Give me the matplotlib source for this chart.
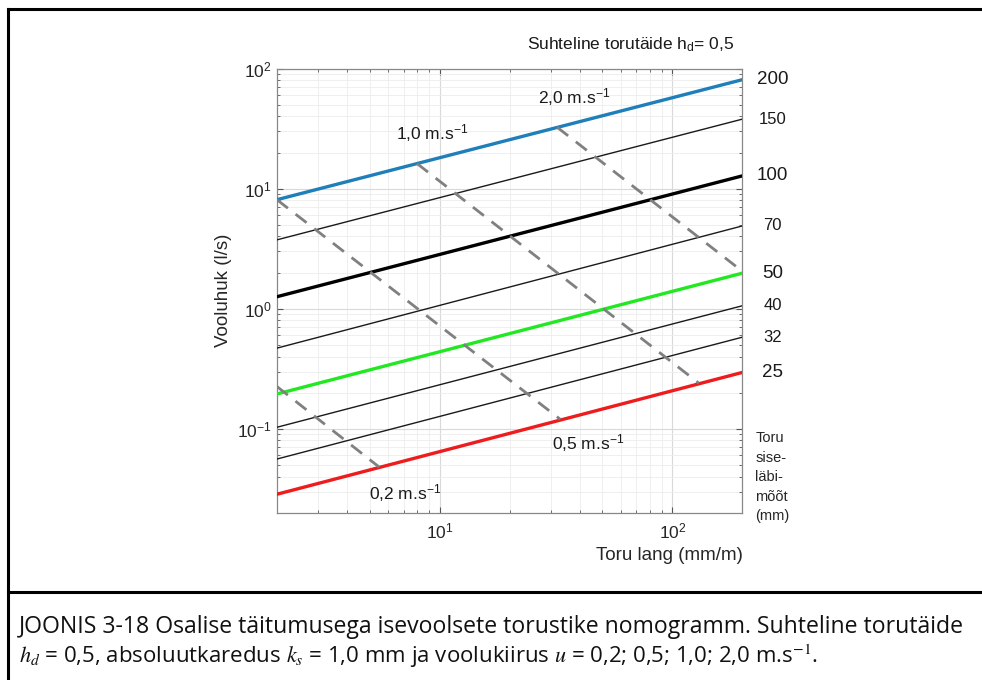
import numpy as np
import matplotlib.pyplot as plt
from matplotlib.lines import Line2D
from matplotlib.transforms import blended_transform_factory

# === DATOS ===
# toru siseläbimõõt (mm) ja vooluhulk (l/s) telje otstes: lang 2 ja 200 mm/m
diam = ['200', '150', '100', '70', '50', '40', '32', '25']
lang_otsad = [2, 200]
q_vasak = [8.1, 3.75, 1.26, 0.47, 0.195, 0.103, 0.056, 0.0285]
q_parem = [81, 38, 12.8, 4.9, 1.98, 1.06, 0.58, 0.295]

# voolukiiruse jooned: (lang algus, Q algus) -> (lang lõpp, Q lõpp)
kiirus_nimed = ['2,0', '1,0', '0,5', '0,2']
kiirus_lang = [[32, 200], [8, 130], [2, 33], [2, 5.5]]
kiirus_q = [[32.5, 2.05], [16.2, 0.24], [8.1, 0.12], [0.225, 0.048]]
# siltide asukohad (lang, Q)
silt_lang = [38, 9.3, 43.5, 7.1]
silt_q = [58, 29, 0.076, 0.029]

# === STIILID ===
stiil = {
    '200': dict(color='#1f7fb9', lw=2.4),
    '100': dict(color='black', lw=2.4),
    '50': dict(color='#22e822', lw=2.4),
    '25': dict(color='#ee1c1c', lw=2.4),
}
ohuke = dict(color='#1a1a1a', lw=1.0)

plt.rcParams['font.family'] = ['Liberation Sans', 'DejaVu Sans']
plt.rcParams['mathtext.fontset'] = 'custom'
plt.rcParams['mathtext.rm'] = 'Liberation Sans'
plt.rcParams['mathtext.it'] = 'Liberation Sans:italic'
plt.rcParams['mathtext.bf'] = 'Liberation Sans:bold'

fig = plt.figure(figsize=(9.82, 6.8), dpi=100)
ax = fig.add_axes([0.282, 0.246, 0.474, 0.653])

for d, q1, q2 in zip(diam, q_vasak, q_parem):
    ax.plot(lang_otsad, [q1, q2], **stiil.get(d, ohuke), zorder=3)

for s, q in zip(kiirus_lang, kiirus_q):
    ax.plot(s, q, color='#808080', lw=2.0, dashes=(5, 3.5), zorder=4)

ax.set_xscale('log')
ax.set_yscale('log')
ax.set_xlim(2, 200)
ax.set_ylim(0.02, 100)
ax.grid(True, which='major', color='#d9d9d9', lw=0.8)
ax.grid(True, which='minor', color='#ececec', lw=0.6)
ax.tick_params(which='both', direction='in', top=True, right=True,
               colors='#555555', labelcolor='#262626', labelsize=12.5)
ax.tick_params(which='major', length=4)
ax.tick_params(which='minor', length=2)
ax.tick_params(axis='x', pad=6)
for sp in ax.spines.values():
    sp.set_color('#888888')
    sp.set_linewidth(0.9)

ax.set_ylabel('Vooluhuk (l/s)', fontsize=13.5, color='#262626', labelpad=4)
ax.set_xlabel('Toru lang (mm/m)', fontsize=13.5, color='#262626',
              loc='right', labelpad=4)

# läbimõõdu sildid paremal
tr = blended_transform_factory(ax.transAxes, ax.transData)
for d, q in zip(diam, q_parem):
    suur = d in stiil
    ax.text(1.065, q, d, transform=tr, ha='center', va='center',
            fontsize=13.5 if suur else 12, color='#1a1a1a', clip_on=False)

ax.text(1.028, 0.095, 'Toru\nsise-\nläbi-\nmõõt\n(mm)', transform=tr,
        ha='left', va='top', fontsize=10.5, linespacing=1.5, color='#262626')

# kiiruse sildid
for nimi, s, q in zip(kiirus_nimed, silt_lang, silt_q):
    ax.text(s, q, nimi + ' m.s$^{-1}$', fontsize=12.5, color='#1a1a1a',
            ha='center', va='center')

fig.text(0.748, 0.935, 'Suhteline torutäide h$_\\mathregular{d}$= 0,5',
         ha='right', va='center', fontsize=12.5, color='#1a1a1a')

# raam ja allkiri
y_top = 1 - 9 / 680
x_left = 8 / 982
y_sep = 1 - 592 / 680
fig.add_artist(Line2D([x_left, 1], [y_top, y_top], color='black', lw=2.2))
fig.add_artist(Line2D([x_left, x_left], [0, y_top], color='black', lw=2.2))
fig.add_artist(Line2D([x_left, 1], [y_sep, y_sep], color='black', lw=2.2))

fig.text(0.019, 1 - 627 / 680,
         'JOONIS 3-18 Osalise täitumusega isevoolsete torustike nomogramm. '
         'Suhteline torutäide',
         family='Open Sans', fontsize=16.6, ha='left', va='center',
         color='#111111')
fig.text(0.019, 1 - 656 / 680,
         '$h_d$ = 0,5, absoluutkaredus $k_s$ = 1,0 mm ja voolukiirus '
         '$u$ = 0,2; 0,5; 1,0; 2,0 m.s$^{-1}$.',
         family='Open Sans', fontsize=16.0, ha='left', va='center',
         color='#111111', math_fontfamily='stix')

fig.savefig('out.png', dpi=100)
